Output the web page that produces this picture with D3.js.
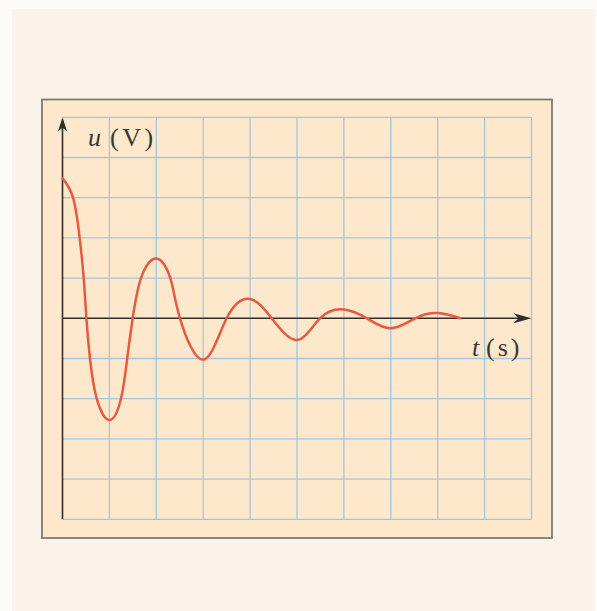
<!DOCTYPE html>
<html>
<head>
<meta charset="utf-8">
<script src="https://cdn.jsdelivr.net/npm/d3@7/dist/d3.min.js"></script>
<style>
  html, body { margin: 0; padding: 0; background: #ffffff; }
  svg { display: block; }
</style>
</head>
<body>
<svg id="chart" width="597" height="611"></svg>
<script>
// ---- data ----
const timeValues    = [0, 0.225, 0.366, 0.452, 0.51, 0.586, 0.73, 1.0, 1.247, 1.38, 1.497, 1.674, 2.0, 2.3, 2.505, 3.0, 3.5, 4.0, 4.46, 5.0, 5.49, 6.0, 6.49, 7.0, 7.52, 8.0, 8.48];
const voltageValues = [3.48, 3.0, 2.0, 1.0, 0.0, -1.0, -2.0, -2.53, -2.0, -1.0, 0.0, 1.0, 1.49, 1.0, 0.0, -1.03, 0.0, 0.48, 0.0, -0.54, 0.0, 0.22, 0.0, -0.25, 0.0, 0.13, 0.0];
const timeGrid    = [0, 1, 2, 3, 4, 5, 6, 7, 8, 9, 10];
const voltageGrid = [-5, -4, -3, -2, -1, 0, 1, 2, 3, 4, 5];
const yLabel = ["u", "(V)"];
const xLabel = ["t", "(s)"];

const svg = d3.select("#chart");
const W = 597, H = 611;

// page background (scanned page)
svg.append("rect").attr("x", 0).attr("y", 0).attr("width", W).attr("height", H).attr("fill", "#fdfbf7");
svg.append("rect").attr("x", 12).attr("y", 9).attr("width", W - 14).attr("height", H - 9).attr("fill", "#f9f3ea");

// framed box
svg.append("rect")
  .attr("x", 42).attr("y", 99.5).attr("width", 510).attr("height", 438.5)
  .attr("fill", "#fde8cb").attr("stroke", "#7d7a70").attr("stroke-width", 1.8);

const x = d3.scaleLinear().domain([0, 10]).range([62.5, 531.5]);
const y = d3.scaleLinear().domain([-5, 5]).range([519.3, 117.3]);

// grid
const grid = svg.append("g").attr("stroke", "#a3c6df").attr("stroke-width", 1.3).attr("fill", "none");
grid.selectAll("line.v").data(timeGrid.filter(d => d > 0)).join("line")
  .attr("x1", d => x(d)).attr("x2", d => x(d))
  .attr("y1", y(5)).attr("y2", y(-5));
grid.selectAll("line.h").data(voltageGrid.filter(d => d !== 0)).join("line")
  .attr("x1", x(0)).attr("x2", x(10))
  .attr("y1", d => y(d)).attr("y2", d => y(d));

// axes
const axisColor = "#2e2e2e";
svg.append("line")
  .attr("x1", x(0)).attr("x2", x(0)).attr("y1", y(-5)).attr("y2", y(5) + 6)
  .attr("stroke", axisColor).attr("stroke-width", 1.6);
svg.append("line")
  .attr("x1", x(0)).attr("x2", x(10) - 6).attr("y1", y(0)).attr("y2", y(0))
  .attr("stroke", axisColor).attr("stroke-width", 1.6);

// arrowheads
const ax = x(0), ay = y(5);
svg.append("path")
  .attr("d", `M${ax},${ay} L${ax + 4.5},${ay + 14} L${ax},${ay + 10.5} L${ax - 4.5},${ay + 14} Z`)
  .attr("fill", axisColor);
const bx = x(10), by = y(0);
svg.append("path")
  .attr("d", `M${bx},${by} L${bx - 18},${by - 5} L${bx - 13},${by} L${bx - 18},${by + 5} Z`)
  .attr("fill", axisColor);

// curve
const pts = timeValues.map((t, i) => [t, voltageValues[i]]);
const line = d3.line()
  .x(d => x(d[0])).y(d => y(d[1]))
  .curve(d3.curveNatural);
svg.append("path")
  .attr("d", line(pts))
  .attr("fill", "none")
  .attr("stroke", "#e65a40")
  .attr("stroke-width", 2.5)
  .attr("stroke-linejoin", "round")
  .attr("stroke-linecap", "round");

// labels
const font = "'Liberation Serif', 'DejaVu Serif', serif";
const yl = svg.append("text")
  .attr("x", 88).attr("y", 145.5)
  .attr("font-family", font).attr("font-size", 26).attr("fill", "#383838");
yl.append("tspan").attr("font-style", "italic").text(yLabel[0]);
yl.append("tspan").attr("x", 110).attr("letter-spacing", 3.5).text(yLabel[1]);

const xl = svg.append("text")
  .attr("x", 472).attr("y", 356)
  .attr("font-family", font).attr("font-size", 26).attr("fill", "#383838");
xl.append("tspan").attr("font-style", "italic").text(xLabel[0]);
xl.append("tspan").attr("x", 486).attr("letter-spacing", 3).text(xLabel[1]);
</script>
</body>
</html>
